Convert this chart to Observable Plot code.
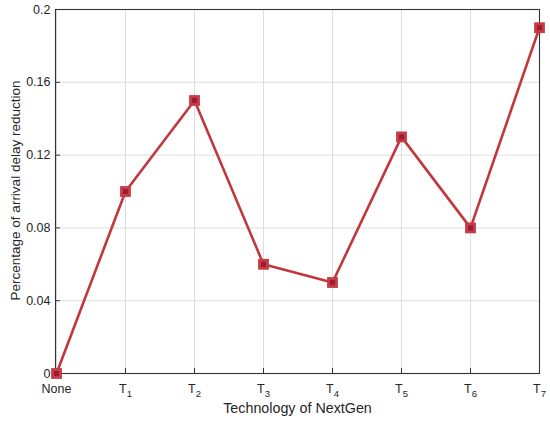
<!DOCTYPE html>
<html><head><meta charset="utf-8">
<script src="https://cdn.jsdelivr.net/npm/d3@7"></script>
<script src="https://cdn.jsdelivr.net/npm/@observablehq/plot@0.6"></script>
<style>
body{margin:0;background:#fff;}
#chart svg{font-family:"Liberation Sans",Arial,sans-serif;}
</style>
</head><body><div id="chart"></div>
<script>
const categories = ["None","T1","T2","T3","T4","T5","T6","T7"];
const values = [0, 0.10, 0.15, 0.06, 0.05, 0.13, 0.08, 0.19];
const yTicks = [0, 0.04, 0.08, 0.12, 0.16, 0.2];
const yTickLabels = ["0","0.04","0.08","0.12","0.16","0.2"];
const xTitle = "Technology of NextGen";
const yTitle = "Percentage of arrival delay reduction";

const data = categories.map((c,i)=>({cat:c, v:values[i]}));
const lineColor = "#c2373d";
const W = 550, H = 423, mL = 55, mR = 11, mT = 9, mB = 50;
const fw = W - mL - mR, fh = H - mT - mB;

const plot = Plot.plot({
  width: W, height: H,
  marginLeft: mL, marginRight: mR, marginTop: mT, marginBottom: mB,
  style: {fontSize: "12.5px", fontFamily: "Liberation Sans, Arial, sans-serif", color: "#262626"},
  x: {type: "point", domain: categories, padding: 0},
  y: {domain: [0, 0.2]},
  marks: [
    Plot.gridX(categories, {stroke: "#dedede", strokeOpacity: 1}),
    Plot.gridY(yTicks, {stroke: "#dedede", strokeOpacity: 1}),
    Plot.frame({stroke: "#333", strokeWidth: 1.1}),
    Plot.axisX({ticks: categories, tickSize: 0, tickPadding: 11, label: null, fill:"#262626", fontSize: 12.5}),
    Plot.axisY({ticks: yTicks, tickFormat: (d)=> yTickLabels[yTicks.indexOf(d)], tickSize: 0, tickPadding: 5, label: null, fill:"#262626", fontSize: 12.5}),
    Plot.ruleX(categories, {x: d=>d, insetTop: fh - 5, stroke:"#333"}),
    Plot.ruleY(yTicks, {y: d=>d, insetRight: fw - 5, stroke:"#333"}),
    Plot.line(data, {x: "cat", y: "v", stroke: lineColor, strokeWidth: 2.6}),
    Plot.dot(data, {x: "cat", y: "v", symbol: "square", r: 6.1, fill: "#c53c46", stroke: "none"}),
    Plot.dot(data, {x: "cat", y: "v", symbol: "square", r: 2.8, fill: "#a01a34", stroke: "none"}),
    Plot.text([xTitle], {frameAnchor: "bottom", dy: 39, text: d=>d, fontSize: 14.3, fill:"#262626"}),
    Plot.text([yTitle], {frameAnchor: "left", dx: -40, dy: -1, rotate: -90, textAnchor: "middle", text: d=>d, fontSize: 13.5, fill:"#262626"})
  ]
});
document.getElementById("chart").appendChild(plot);

// subscripts on x tick labels
d3.select(plot).selectAll("g[aria-label='x-axis tick label'] text").each(function(){
  const t = d3.select(this);
  const s = t.text();
  const m = /^T(\d)$/.exec(s);
  if (m) {
    t.text(null);
    t.append("tspan").text("T");
    t.append("tspan").attr("font-size","9.5px").attr("dy","0.4em").text(m[1]);
  }
});
</script>
</body></html>
